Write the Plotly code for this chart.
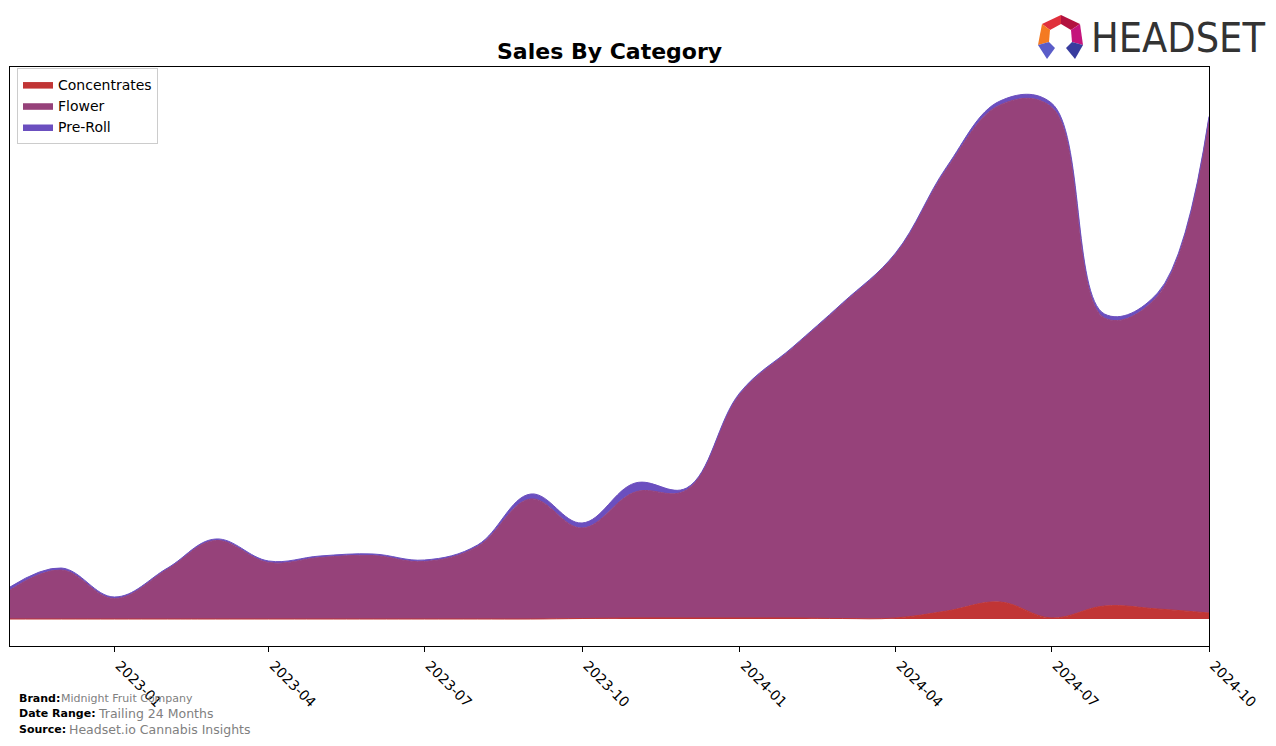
import plotly.graph_objects as go

# ---- data (monthly, arbitrary sales units) ----
months = ["2022-11-01", "2022-12-01", "2023-01-01", "2023-02-01", "2023-03-01", "2023-04-01",
          "2023-05-01", "2023-06-01", "2023-07-01", "2023-08-01", "2023-09-01", "2023-10-01",
          "2023-11-01", "2023-12-01", "2024-01-01", "2024-02-01", "2024-03-01", "2024-04-01",
          "2024-05-01", "2024-06-01", "2024-07-01", "2024-08-01", "2024-09-01", "2024-10-01"]
concentrates = [0, 0, 0, 0, 0, 0, 0, 0, 0, 0, 0, 0.5,
                1, 1, 1, 1, 0.5, 1, 8, 17, 1, 13, 10, 6]
flower = [29, 49, 20.5, 50, 78.5, 56.5, 61.5, 63.5, 57.5, 72.5, 120, 90.5,
          126, 128, 223.5, 270, 314.5, 364, 442.5, 497, 511, 288, 313, 494.5]
preroll = [3, 2, 1.5, 1, 1.5, 1.5, 1.5, 1.5, 1.5, 1.5, 5, 5,
           9, 2, 1.5, 1, 1, 1, 2, 4, 4, 4, 3, 2]

tick_vals = ["2023-01-01", "2023-04-01", "2023-07-01", "2023-10-01",
             "2024-01-01", "2024-04-01", "2024-07-01", "2024-10-01"]
tick_text = ["2023-01", "2023-04", "2023-07", "2023-10",
             "2024-01", "2024-04", "2024-07", "2024-10"]

series = [("Concentrates", concentrates, "#C13535"),
          ("Flower", flower, "#96427A"),
          ("Pre-Roll", preroll, "#6B4FBF")]

W, H = 1276, 746
L, R, T, B = 10, 1209, 67, 646  # plot area in px

fig = go.Figure()
for name, vals, col in series:
    fig.add_trace(go.Scatter(
        x=months, y=vals, name=name, mode="lines", stackgroup="one",
        line=dict(color=col, width=1, shape="spline", smoothing=1.1),
        fillcolor=col, hoverinfo="skip"))

FONT = "DejaVu Sans"


def px(x):
    return (x - L) / (R - L)


def py(y):
    return (B - y) / (B - T)


def poly(pts, color):
    d = "M " + " L ".join(f"{px(a):.5f},{py(b):.5f}" for a, b in pts) + " Z"
    return dict(type="path", xref="paper", yref="paper", path=d,
                fillcolor=color, line=dict(width=0), layer="above")


shapes = [
    poly([(1042, 24), (1061, 15), (1061, 24), (1050, 30)], "#E0303C"),
    poly([(1061, 15), (1080, 24), (1071, 30), (1061, 24)], "#B3123F"),
    poly([(1042, 24), (1050, 30), (1049, 42), (1038, 45)], "#F47A22"),
    poly([(1080, 24), (1083, 45), (1072, 42), (1071, 30)], "#C4157C"),
    poly([(1038, 45), (1049, 42), (1055, 48), (1047, 59)], "#5A5CC8"),
    poly([(1083, 45), (1072, 42), (1066, 48), (1075, 59)], "#383C9E"),
]

annotations = [
    dict(text="<b>Sales By Category</b>", x=px(609.5), y=py(52), xref="paper", yref="paper",
         showarrow=False, font=dict(family=FONT, size=22, color="black"),
         xanchor="center", yanchor="middle"),
    dict(text="HEADSET", x=px(1089), y=py(38), xref="paper", yref="paper",
         showarrow=False,
         font=dict(family="DejaVu Sans Condensed, Liberation Sans Narrow, Roboto, sans-serif",
                   size=41, color="#333333"),
         xanchor="left", yanchor="middle"),
]

footer = [("Brand:", "Midnight Fruit Company", 698, 59, 11),
          ("Date Range:", "Trailing 24 Months", 714, 96, 12.5),
          ("Source:", "Headset.io Cannabis Insights", 729, 67, 12.5)]
for lab, val, yy, xv, fs in footer:
    annotations.append(dict(text=f"<b>{lab}</b>", x=px(17), y=py(yy), xref="paper", yref="paper",
                            showarrow=False, font=dict(family=FONT, size=11, color="black"),
                            xanchor="left", yanchor="middle"))
    annotations.append(dict(text=val, x=px(xv), y=py(yy), xref="paper", yref="paper",
                            showarrow=False, font=dict(family=FONT, size=fs, color="#808080"),
                            xanchor="left", yanchor="middle"))

fig.update_layout(
    width=W, height=H,
    margin=dict(l=L, r=W - R, t=T, b=H - B),
    paper_bgcolor="white", plot_bgcolor="white",
    font=dict(family=FONT, size=14, color="black"),
    showlegend=True,
    legend=dict(x=px(17), y=py(68), xanchor="left", yanchor="top",
                bgcolor="rgba(255,255,255,0.8)", bordercolor="#CCCCCC", borderwidth=1,
                font=dict(family=FONT, size=14, color="black"), traceorder="normal",
                itemwidth=30),
    xaxis=dict(type="date", range=[months[0], months[-1]],
               tickvals=tick_vals, ticktext=tick_text, tickangle=45,
               ticks="outside", ticklen=5, tickcolor="black",
               ticklabelshift=5,
               showline=True, linecolor="black", linewidth=1, mirror=True,
               showgrid=False, zeroline=False,
               tickfont=dict(family=FONT, size=14, color="black")),
    yaxis=dict(range=[-27, 552], showticklabels=False, ticks="",
               showline=True, linecolor="black", linewidth=1, mirror=True,
               showgrid=False, zeroline=False),
    shapes=shapes,
    annotations=annotations,
)

fig.write_html("out.html")
